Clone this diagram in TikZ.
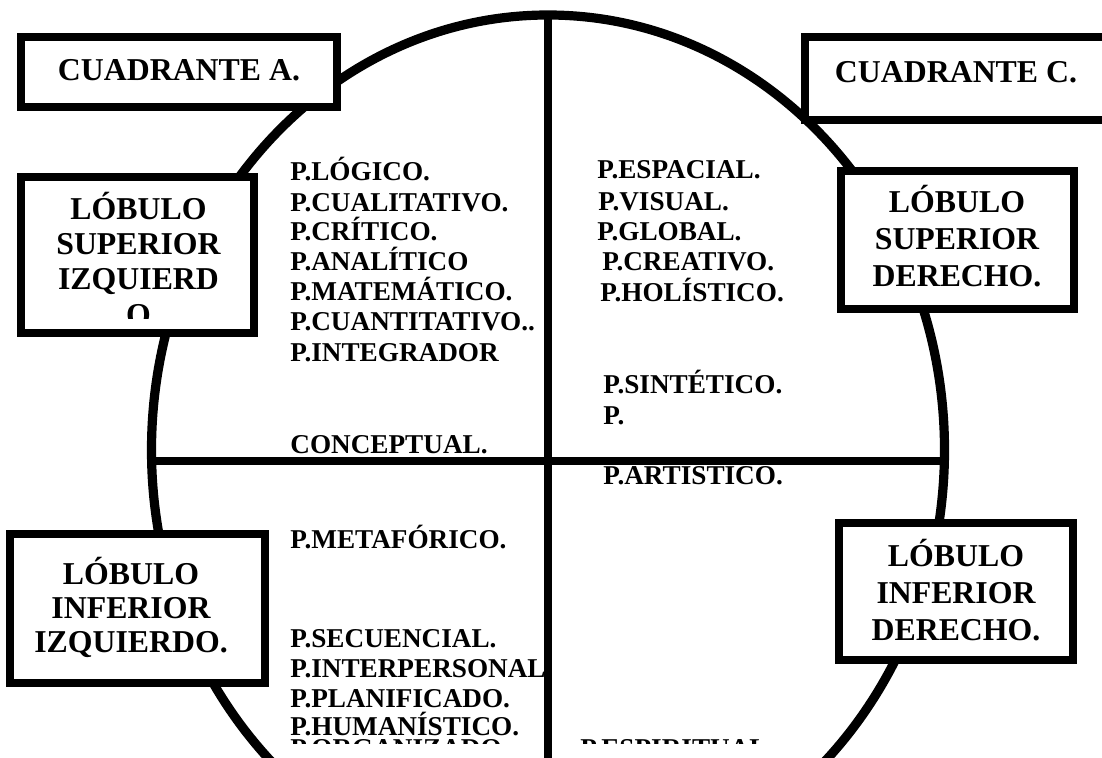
\documentclass[tikz,border=0pt]{standalone}
\usepackage{fontspec}
\setmainfont{Liberation Serif}
\begin{document}
\begin{tikzpicture}[x=0.5pt,y=-0.5pt,
  box/.style={draw, line width=4pt, fill=white, inner sep=0pt},
  btxt/.style={font=\fontsize{15.9}{18}\selectfont\bfseries, anchor=base, inner sep=0pt},
  lst/.style={font=\fontsize{13.6}{15}\selectfont\bfseries, anchor=base west, inner sep=0pt},
  ring/.style={line width=4.6pt},
  axis/.style={line width=4pt}]
\useasboundingbox (0,0) rectangle (1102,758);
\clip (0,0) rectangle (1102,758);
% left lists
\node[lst] (l1) at (290,181) {P.LÓGICO.};
\node[lst] (l2) at (290,212) {P.CUALITATIVO.};
\node[lst] (l3) at (290,241) {P.CRÍTICO.};
\node[lst] (l4) at (290,271) {P.ANALÍTICO};
\node[lst] (l5) at (290,301) {P.MATEMÁTICO.};
\node[lst] (l6) at (290,331) {P.CUANTITATIVO..};
\node[lst] (l7) at (290,362) {P.INTEGRADOR};
\node[lst] (l8) at (290,454) {CONCEPTUAL.};
\node[lst] (l9) at (290,548) {P.METAFÓRICO.};
\node[lst] (l10) at (290,647) {P.SECUENCIAL.};
\node[lst] (l11) at (290,677) {P.INTERPERSONAL.};
\node[lst] (l12) at (290,707) {P.PLANIFICADO.};
\node[lst] (l13) at (290,735) {P.HUMANÍSTICO.};
% right lists
\node[lst] (r1) at (597,179) {P.ESPACIAL.};
\node[lst] (r2) at (598,211) {P.VISUAL.};
\node[lst] (r3) at (597,241) {P.GLOBAL.};
\node[lst] (r4) at (602,271) {P.CREATIVO.};
\node[lst] (r5) at (600,302) {P.HOLÍSTICO.};
\node[lst] (r6) at (603,394) {P.SINTÉTICO.};
\node[lst] (r7) at (603,425) {P.};
\node[lst] (r8) at (603,485) {P.ARTÍSTICO.};
\begin{scope}
  \clip (0,0) rectangle (1102,743);
  \node[lst] (l14) at (290,757) {P.ORGANIZADO.};
  \node[lst] (r9) at (580,757) {P.ESPIRITUAL.};
\end{scope}
% circle and axes
\draw[ring] (548,450) ellipse [x radius=198.25pt, y radius=217.5pt];
\coordinate (vtop) at (548,15);
\coordinate (vbot) at (548,760);
\coordinate (hl) at (151,461);
\coordinate (hr) at (945,461);
\draw[axis] (vtop) -- (vbot);
\draw[axis] (hl) -- (hr);
% boxes
\node[box, minimum width=158pt, minimum height=35pt] (ca) at (179,72) {};
\node[btxt] (cat) at (179,81) {CUADRANTE A.};
\node[box, minimum width=151pt, minimum height=41.5pt] (cc) at (956,78.5) {};
\node[btxt] (cct) at (956,83) {CUADRANTE C.};
\node[box, minimum width=116.5pt, minimum height=78pt] (lsi) at (137.5,255) {};
\begin{scope}
  \clip (21,177) rectangle (254,319);
  \node[btxt] (lsi1) at (138.5,220) {LÓBULO};
  \node[btxt] (lsi2) at (138.5,255) {SUPERIOR};
  \node[btxt] (lsi3) at (138.5,290) {IZQUIERD};
  \node[btxt] (lsi4) at (138.5,326) {O};
\end{scope}
\node[box, minimum width=116.5pt, minimum height=69pt] (lsd) at (957.5,240) {};
\node[btxt] (lsd1) at (957,213) {LÓBULO};
\node[btxt] (lsd2) at (957,250) {SUPERIOR};
\node[btxt] (lsd3) at (957,287) {DERECHO.};
\node[box, minimum width=127.5pt, minimum height=74.5pt] (lii) at (137.5,608.5) {};
\node[btxt] (lii1) at (131,584) {LÓBULO};
\node[btxt] (lii2) at (131,618) {INFERIOR};
\node[btxt] (lii3) at (131,652) {IZQUIERDO.};
\node[box, minimum width=117pt, minimum height=68.5pt] (lid) at (956,591.5) {};
\node[btxt] (lid1) at (956,567) {LÓBULO};
\node[btxt] (lid2) at (956,603) {INFERIOR};
\node[btxt] (lid3) at (956,640) {DERECHO.};
\end{tikzpicture}
\end{document}
